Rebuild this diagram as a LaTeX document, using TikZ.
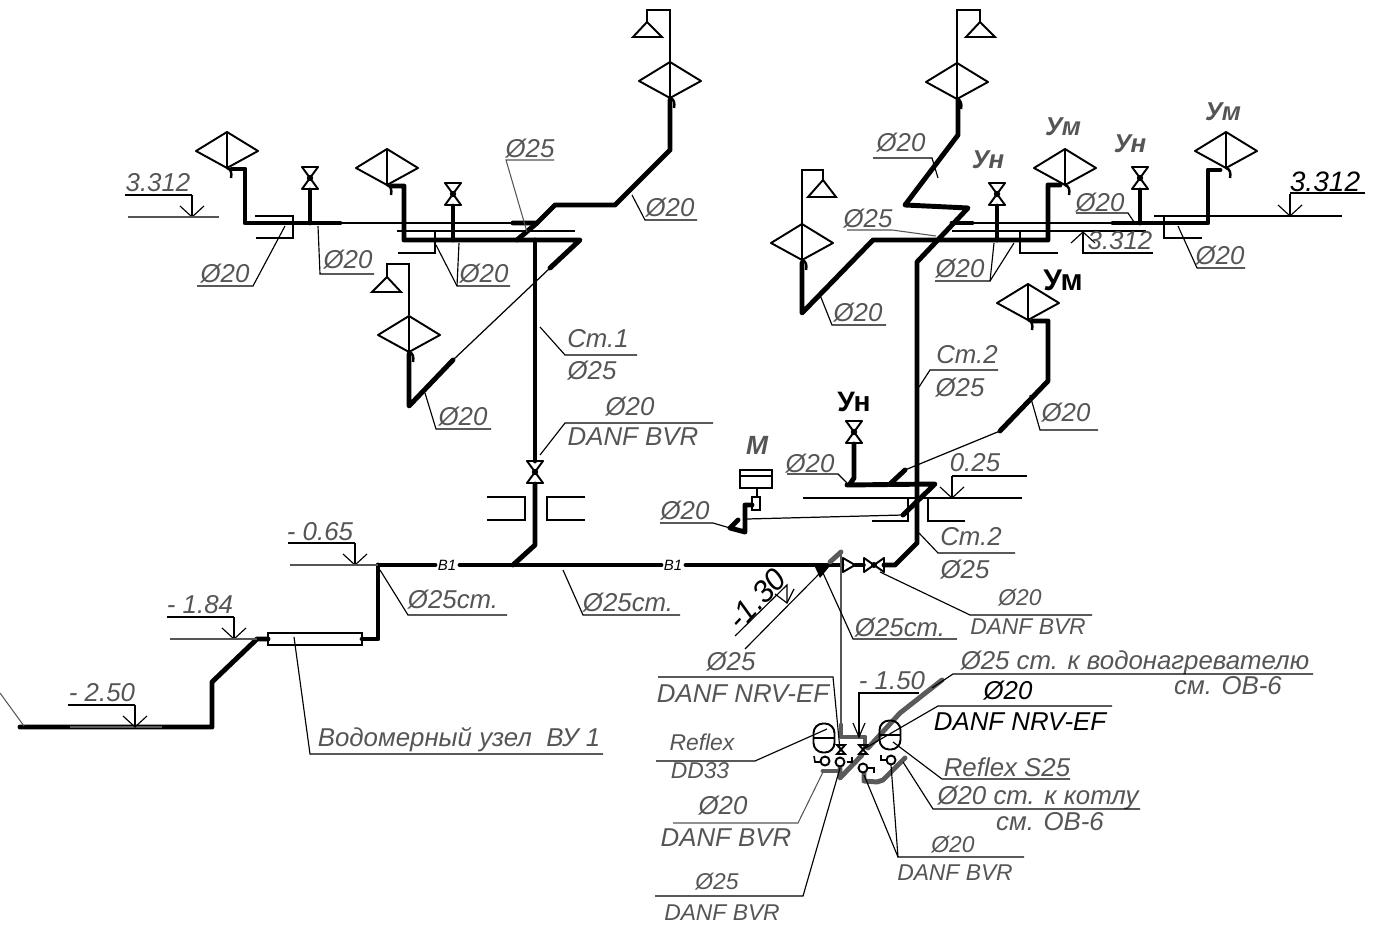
\documentclass[tikz,border=0pt]{standalone}
\usepackage{fontspec}
\setmainfont{Liberation Sans}
\definecolor{labelgrey}{RGB}{85, 85, 85}
\definecolor{pipegrey}{RGB}{90, 90, 90}
\usetikzlibrary{positioning, calc}
\tikzset{
  pipe/.style={line width=2.8pt, line cap=round, line join=round},
  pipegr/.style={line width=2.8pt, draw=pipegrey, line cap=round, line join=round},
  thinpipe/.style={line width=0.7pt},
  lead/.style={line width=0.65pt},
  leadgr/.style={line width=0.6pt, draw=labelgrey},
  bracketline/.style={line width=0.9pt},
  lbl/.style={font=\fontsize{14.7}{16}\selectfont\itshape, text=labelgrey, inner sep=0pt},
  lblsm/.style={font=\fontsize{13}{15}\selectfont\itshape, text=labelgrey, inner sep=0pt},
  lblblack/.style={font=\fontsize{14.7}{16}\selectfont\itshape, text=black, inner sep=0pt},
  lblbig/.style={font=\fontsize{16}{18}\selectfont\itshape, text=black, inner sep=0pt},
  lblbold/.style={font=\fontsize{14.7}{16}\selectfont\bfseries\itshape, text=labelgrey, inner sep=0pt},
  markup/.style={font=\fontsize{16}{18}\selectfont\bfseries, text=black, inner sep=0pt},
  radiator/.pic={
    \draw[line width=1.1pt, line join=round] (-31,0) -- (0,-19) -- (31,0) -- (0,17) -- cycle;
    \draw[line width=0.9pt] (0,-19) -- (0,17);
    \draw[line width=1.4pt] (0,17) .. controls (4,18) and (5,22) .. (4,27);
  },
  stopvalve/.pic={
    \draw[line width=1.1pt, line join=round] (-8,-11) -- (8,-11) -- (-8,11) -- (8,11) -- cycle;
    \fill (0,0) circle (3.2);
  },
  levelmark/.pic={
    \draw[lead] (0,-22) -- (0,0);
    \draw[lead] (-12,-11) -- (0,0) -- (12,-11);
  },
  tank/.pic={
    \draw[line width=1.1pt, rounded corners=5.5pt] (-10.5,-14.5) rectangle (10.5,14.5);
    \draw[line width=1.1pt] (-10.5,0) -- (10.5,0);
  }
}
\begin{document}
\begin{tikzpicture}[x=0.02cm, y=-0.02cm]
  \useasboundingbox (0,0) rectangle (1399,935);

  % Left upper branch
  \draw[pipe] (232,169) -- (245,169) -- (245,223) -- (340,223);
  \draw[thinpipe] (340,223) -- (513,223);
  \draw[pipe] (513,223) -- (537,223) -- (555,205) -- (615,205) -- (670,150) -- (670,100);
  \draw[pipe] (517,240) -- (537,223);
  \draw[pipe] (310,223) -- (310,190);
  \pic at (310,178) {stopvalve};
  \pic at (227,151) {radiator};
  \draw[pipe] (392,186) -- (404,186) -- (404,240) -- (580,240) -- (550,268);
  \draw[thinpipe] (550,268) -- (453,360);
  \draw[pipe] (453,360) -- (409,406) -- (409,354);
  \draw[pipe] (453,240) -- (453,206);
  \pic at (453,194) {stopvalve};
  \pic at (387,168) {radiator};
  \pic at (409,335) {radiator};
  \draw[thinpipe] (409,315) -- (409,264) -- (387,264) -- (387,277);
  \draw[line width=1.1pt] (387,277) -- (401,292) -- (372,292) -- cycle;
  \draw[thinpipe] (397,231) -- (575,231);
  \draw[bracketline] (255,216) -- (293,216) -- (293,238) -- (256,238);
  \draw[bracketline] (435,231) -- (435,253) -- (398,253);

  % Top left radiator
  \pic at (670,81) {radiator};
  \draw[line width=0.9pt] (670,62) -- (670,10) -- (647,10) -- (647,22);
  \draw[line width=1.1pt] (647,22) -- (662,37) -- (633,37) -- cycle;

  % Riser 1
  \draw[pipe] (535,240) -- (535,461);
  \pic at (535,472) {stopvalve};
  \draw[pipe] (535,484) -- (535,545) -- (513,565);
  \draw[line width=1pt] (487,497) -- (525,497) -- (525,520) -- (487,520);
  \draw[line width=1pt] (585,497) -- (547,497) -- (547,520) -- (585,520);

  % Main line
  \draw[pipe] (378,565) -- (435,565);
  \draw[pipe] (460,565) -- (661,565);
  \draw[pipe] (686,565) -- (842,565);
  \node[font=\fontsize{8.5}{10}\selectfont\itshape, inner sep=0pt] (bonea) at (447,565) {В1};
  \node[font=\fontsize{8.5}{10}\selectfont\itshape, inner sep=0pt] (boneb) at (673,565) {В1};
  \draw[pipe] (378,565) -- (378,639) -- (362,639);
  \draw[pipe] (268,639) -- (257,639) -- (212,682) -- (212,727) -- (20,727);
  \draw[line width=0.8pt] (268,633) rectangle (362,645);
  \draw[leadgr] (0,693) -- (24,726);
  \draw[line width=1.6pt, draw=pipegrey] (70,727) -- (162,727);
  \fill (815,567) -- (829,567) -- (820,578) -- cycle;

  % Valves on main line
  \draw[line width=1.1pt, line join=round] (843,558) -- (855,565) -- (843,572) -- cycle;
  \draw[pipe, line width=2pt] (855,565) -- (864,565);
  \draw[line width=1.1pt, line join=round] (864,558) -- (884,572) -- (884,558) -- (864,572) -- cycle;
  \fill (874,565) circle (3);
  \draw[pipe] (884,565) -- (895,565) -- (917,543) -- (917,262) -- (968,208) -- (905,205) -- (958,135) -- (958,100);

  % Right upper branch
  \pic at (957,82) {radiator};
  \draw[line width=0.9pt] (957,63) -- (957,10) -- (980,10) -- (980,22);
  \draw[line width=1.1pt] (980,22) -- (995,37) -- (966,37) -- cycle;
  \pic at (802,243) {radiator};
  \draw[line width=0.9pt] (802,224) -- (802,170) -- (823,170) -- (823,180);
  \draw[line width=1.1pt] (823,180) -- (836,197) -- (808,197) -- cycle;
  \draw[pipe] (802,263) -- (802,313) -- (873,240) -- (1048,240) -- (1048,185) -- (1060,185);
  \pic at (1065,168) {radiator};
  \draw[pipe] (997,240) -- (997,206);
  \pic at (997,194) {stopvalve};
  \draw[pipe] (952,223) -- (972,223);
  \draw[thinpipe] (972,223) -- (1113,223);
  \draw[pipe] (1113,223) -- (1208,223) -- (1208,170) -- (1220,170);
  \pic at (1226,151) {radiator};
  \draw[pipe] (1140,223) -- (1140,190);
  \pic at (1140,178) {stopvalve};
  \draw[thinpipe] (952,231) -- (1146,231);
  \draw[bracketline] (1020,231) -- (1020,253) -- (1058,253);
  \draw[bracketline] (1164,216) -- (1164,238) -- (1202,238);

  % Right lower branch
  \draw[pipe] (847,485) -- (935,484) -- (903,515);
  \draw[thinpipe] (903,515) -- (747,519);
  \draw[pipe] (850,484) -- (854,478) -- (854,444);
  \pic at (854,432) {stopvalve};
  \draw[pipe] (890,484) -- (905,470);
  \draw[thinpipe] (905,470) -- (1000,431);
  \draw[pipe] (1000,431) -- (1048,381) -- (1048,321) -- (1033,321);
  \pic at (1028,303) {radiator};
  \draw[pipe] (738,520) -- (730,528) -- (745,532) -- (745,505) -- (752,505);
  \draw[line width=1.1pt] (740,470) rectangle (772,488);
  \draw[line width=1.1pt] (740,476) -- (772,476);
  \draw[line width=1pt] (757,488) -- (757,497);
  \draw[line width=1pt] (752,497) rectangle (760,510);
  \draw[bracketline] (870,498) -- (908,498) -- (908,521) -- (872,521);
  \draw[bracketline] (965,521) -- (928,521) -- (928,498);
  \draw[line width=1.4pt] (928,498) -- (965,498);

  % Boiler room group
  \draw[leadgr, line width=1.4pt] (841,552) -- (841,725);
  \draw[pipegr] (830,562) -- (841,552);
  \draw[pipegr] (841,725) -- (841,737) -- (865,737) -- (865,747);
  \draw[pipegr] (840,766) -- (840,778) -- (862,755);
  \draw[pipegr] (823,771) -- (838,771);
  \draw[pipegr] (864,773) -- (864,781) -- (877,782) -- (883,780) -- (905,758);
  \draw[pipegr] (868,748) -- (900,713) -- (942,680);
  \pic at (824,738) {tank};
  \pic at (890,735) {tank};
  \draw[line width=1.1pt, fill=white] (825,761) circle (4.5);
  \draw[line width=1.1pt, fill=white] (840,762) circle (4.5);
  \draw[line width=1.1pt, fill=white] (863,768) circle (4.5);
  \draw[line width=1.1pt, fill=white] (891,760) circle (4.5);
  \draw[bracketline] (814,756) -- (815,762) -- (820,762);
  \draw[bracketline] (847,762) -- (852,762) -- (852,757);
  \draw[bracketline] (868,768) -- (874,768) -- (874,773);
  \draw[bracketline] (881,755) -- (881,760) -- (887,760);
  \draw[line width=1.1pt] (837,745) -- (845,745) -- (837,754) -- (845,754) -- cycle;
  \draw[line width=1.1pt] (859,745) -- (867,745) -- (859,754) -- (867,754) -- cycle;

  % Levels, left
  \node[lbl] (levelleft) at (158,183) {3.312};
  \draw[lead] (125,195) -- (192,195);
  \pic at (192,217) {levelmark};
  \draw[leadgr] (128,217) -- (219,217);
  \node[lbl] (levelb) at (320,532) {- 0.65};
  \draw[lead] (288,543) -- (355,543);
  \pic at (355,565) {levelmark};
  \draw[leadgr] (290,565) -- (378,565);
  \node[lbl] (levelc) at (200,605) {- 1.84};
  \draw[lead] (167,617) -- (234,617);
  \pic at (234,639) {levelmark};
  \draw[leadgr] (170,639) -- (257,639);
  \node[lbl] (leveld) at (102,693) {- 2.50};
  \draw[lead] (68,705) -- (135,705);
  \pic at (135,727) {levelmark};

  % Left labels
  \node[lbl] (dnleft) at (225,274) {Ø20};
  \draw[lead] (197,286) -- (253,286) -- (285,226);
  \node[lbl] (dnb) at (348,260) {Ø20};
  \draw[lead] (318,226) -- (320,274) -- (374,274);
  \node[lbl] (dnc) at (484,274) {Ø20};
  \draw[lead] (510,286) -- (457,286) -- (436,245);
  \draw[lead] (457,286) -- (459,243);
  \node[lbl] (dnd) at (530,149) {Ø25};
  \draw[leadgr] (554,160) -- (506,160) -- (527,232);
  \node[lbl] (dne) at (670,208) {Ø20};
  \draw[lead] (697,220) -- (645,220) -- (632,195);
  \node[lbl] (riserone) at (598,339) {Ст.1};
  \draw[lead] (637,355) -- (565,355) -- (540,327);
  \node[lbl] (dnf) at (592,371) {Ø25};
  \node[lbl] (dng) at (463,417) {Ø20};
  \draw[lead] (491,429) -- (436,429) -- (425,393);
  \node[lbl] (dnh) at (630,407) {Ø20};
  \draw[lead] (713,423) -- (565,423) -- (540,455);
  \node[lbl] (danfa) at (633,437) {DANF BVR};
  \node[lbl] (dni) at (453,600) {Ø25ст.};
  \draw[lead] (507,615) -- (408,615) -- (380,570);
  \node[lbl] (dnj) at (628,603) {Ø25ст.};
  \draw[lead] (680,615) -- (583,615) -- (563,570);
  \node[lbl] (meter) at (459,740) {Водомерный узел\ \ ВУ 1};
  \draw[lead] (603,754) -- (310,754) -- (294,637);

  % Right upper labels
  \node[lbl] (dnk) at (901,143) {Ø20};
  \draw[lead] (873,158) -- (932,158) -- (938,178);
  \node[lbl] (dnl) at (868,219) {Ø25};
  \draw[leadgr] (847,230) -- (892,230) -- (936,236);
  \node[lbl] (dnm) at (960,269) {Ø20};
  \draw[lead] (935,281) -- (990,281) -- (994,243);
  \draw[lead] (990,281) -- (1014,243);
  \node[lbl] (dnn) at (858,313) {Ø20};
  \draw[lead] (886,325) -- (832,325) -- (820,295);
  \node[lbl] (dno) at (1100,203) {Ø20};
  \draw[lead] (1076,213) -- (1128,213) -- (1134,222);
  \node[lbl] (dnp) at (1220,256) {Ø20};
  \draw[lead] (1245,268) -- (1197,268) -- (1178,226);
  \node[lbl] (levele) at (1120,241) {3.312};
  \draw[lead] (1153,253) -- (1083,253) -- (1083,232);
  \draw[lead] (1071,243) -- (1083,232) -- (1095,243);
  \node[lblbig] (levelf) at (1325,182) {3.312};
  \draw[line width=0.8pt] (1290,193) -- (1365,193);
  \pic at (1290,216) {levelmark};
  \draw[line width=0.8pt] (1154,216) -- (1342,216);
  \node[lblbold] (uma) at (1063,127) {Ум};
  \node[lblbold] (umb) at (1223,112) {Ум};
  \node[lblbold] (una) at (988,160) {Ун};
  \node[lblbold] (unb) at (1130,144) {Ун};
  \node[markup, font=\fontsize{17}{20}\selectfont\bfseries] (umc) at (1063,280) {Ум};
  \node[markup] (unc) at (854,402) {Ун};
  \node[lblbold, font=\fontsize{15}{17}\selectfont\bfseries\itshape] (motor) at (757,445) {М};

  % Right middle labels
  \node[lbl] (risertwo) at (967,355) {Ст.2};
  \draw[lead] (998,370) -- (930,370) -- (919,387);
  \node[lbl] (dnq) at (960,388) {Ø25};
  \node[lbl] (dnr) at (1066,413) {Ø20};
  \draw[lead] (1098,430) -- (1040,430) -- (1030,395);
  \node[lbl] (dns) at (810,464) {Ø20};
  \draw[lead] (787,474) -- (838,474) -- (847,483);
  \node[lbl] (dnt) at (685,511) {Ø20};
  \draw[lead] (660,523) -- (713,523) -- (730,528);
  \node[lbl] (levelg) at (975,463) {0.25};
  \draw[lead] (1027,476) -- (952,476);
  \pic at (952,498) {levelmark};
  \draw[lead] (803,498) -- (1022,498);
  \node[lbl] (risertwob) at (971,537) {Ст.2};
  \draw[lead] (1015,553) -- (938,553) -- (919,533);
  \node[lbl] (dnu) at (965,570) {Ø25};
  \node[lblsm] (dnv) at (1020,598) {Ø20};
  \draw[lead] (1092,615) -- (970,615) -- (880,572);
  \node[lblsm] (danfb) at (1028,627) {DANF BVR};

  % Boiler room labels
  \node[lblblack, font=\fontsize{17.5}{19}\selectfont\itshape, rotate=47] (levelh) at (757,599) {-1.30};
  \draw[lead] (735,636) -- (787,585) -- (787,603);
  \draw[lead] (775,594) -- (787,603) -- (794,589);
  \draw[lead] (745,649) -- (820,573);
  \node[lbl] (dnw) at (900,628) {Ø25ст.};
  \draw[lead] (957,639) -- (853,639) -- (823,573);
  \node[lbl] (dnx) at (731,662) {Ø25};
  \draw[lead] (658,677) -- (833,677) -- (840,750);
  \node[lbl] (danfc) at (743,694) {DANF NRV-EF};
  \node[lblsm] (reflexa) at (702,742) {Reflex};
  \draw[lead] (656,761) -- (755,761) -- (827,729);
  \node[lblsm] (reflexb) at (700,771) {DD33};
  \node[lbl] (dny) at (723,806) {Ø20};
  \draw[leadgr] (673,823) -- (798,823) -- (823,772);
  \node[lbl] (danfd) at (726,838) {DANF BVR};
  \node[lblsm] (dnz) at (717,882) {Ø25};
  \draw[lead] (655,896) -- (803,896) -- (840,768);
  \node[lblsm] (danfe) at (722,913) {DANF BVR};
  \node[lbl] (leveli) at (892,681) {- 1.50};
  \draw[lead] (919,693) -- (859,693) -- (859,737);
  \draw[lead] (853,723) -- (859,737) -- (865,723);
  \node[lbl] (heater) at (1135,663) {Ø25 ст. к водонагревателю};
  \draw[lead] (1313,674) -- (953,674) -- (932,688);
  \node[lbl] (heaterb) at (1228,686) {см. ОВ-6};
  \node[lblblack] (dnaa) at (1008,691) {Ø20};
  \draw[lead] (1112,706) -- (938,706) -- (862,750);
  \node[lblblack] (danff) at (1020,722) {DANF NRV-EF};
  \node[lbl] (reflexc) at (1007,767) {Reflex S25};
  \draw[lead] (1070,779) -- (942,779) -- (893,742);
  \node[lbl] (boiler) at (1038,798) {Ø20 ст. к котлу};
  \draw[lead] (1140,809) -- (933,809) -- (903,762);
  \node[lbl] (boilerb) at (1050,822) {см. ОВ-6};
  \node[lblsm] (dnab) at (953,845) {Ø20};
  \draw[lead] (1024,857) -- (898,857) -- (891,765);
  \draw[lead] (898,857) -- (864,775);
  \node[lblsm] (danfg) at (955,873) {DANF BVR};
\end{tikzpicture}
\end{document}
